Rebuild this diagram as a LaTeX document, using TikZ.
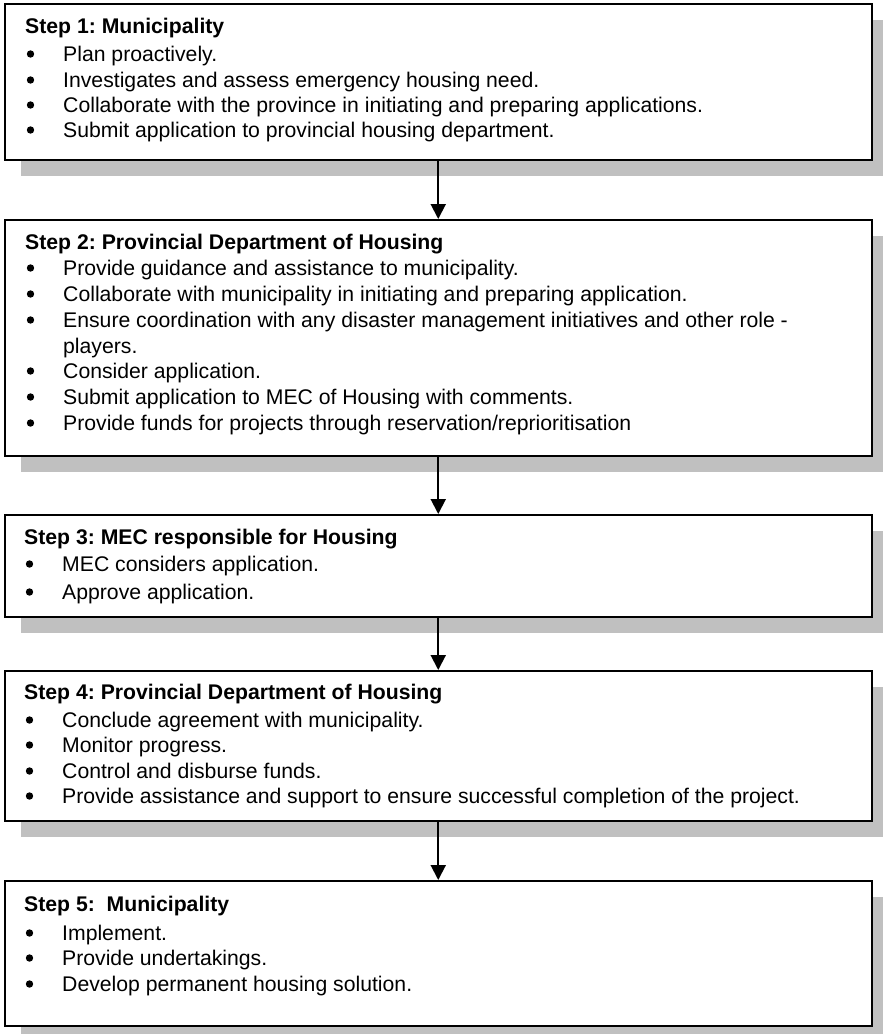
\documentclass[tikz,border=0pt]{standalone}
\usepackage{fontspec}
\setmainfont{Liberation Sans}
\usetikzlibrary{arrows.meta,shadows}
\definecolor{shadowgray}{RGB}{192,192,192}
\frenchspacing
\begin{document}
\begin{tikzpicture}[x=1pt,y=-1pt,
  stepbox/.style={draw=black, line width=1.5pt, fill=white, inner sep=0pt, anchor=north west,
    minimum width=867pt,
    drop shadow={shadow xshift=16pt, shadow yshift=-16pt, fill=shadowgray, opacity=1}},
  txt/.style={font=\fontsize{21.2}{24}\selectfont, inner sep=0pt, anchor=base west},
  ttl/.style={txt, font=\fontsize{21.2}{24}\selectfont\bfseries},
  bulletdot/.style={fill=black},
  arrowline/.style={line width=2pt, -{Triangle[width=15pt,length=15pt]}}]
\useasboundingbox (0,0) rectangle (883,1034);
\clip (0,0) rectangle (883,1034);
% boxes
\node[stepbox, minimum height=156pt] (b1) at (4,3) {};
\node[stepbox, minimum height=236pt] (b2) at (4,219) {};
\node[stepbox, minimum height=102pt] (b3) at (4,514) {};
\node[stepbox, minimum height=150pt] (b4) at (4,670) {};
\node[stepbox, minimum height=145pt] (b5) at (4,880) {};
% arrows
\draw[arrowline] (b1.south) -- (b2.north);
\draw[arrowline] (b2.south) -- (b3.north);
\draw[arrowline] (b3.south) -- (b4.north);
\draw[arrowline] (b4.south) -- (b5.north);
% box 1
\node[ttl] (t1) at (25,33) {Step 1: Municipality};
\node[txt] (i11) at (63,61) {Plan proactively.};
\node[txt] (i12) at (63,87) {Investigates and assess emergency housing need.};
\node[txt] (i13) at (63,112) {Collaborate with the province in initiating and preparing applications.};
\node[txt] (i14) at (63,137) {Submit application to provincial housing department.};
% box 2
\node[ttl] (t2) at (25,249) {Step 2: Provincial Department of Housing};
\node[txt] (i21) at (63,275) {Provide guidance and assistance to municipality.};
\node[txt] (i22) at (63,301) {Collaborate with municipality in initiating and preparing application.};
\node[txt] (i23) at (63,327) {Ensure coordination with any disaster management initiatives and other role -};
\node[txt] (i23b) at (63,353) {players.};
\node[txt] (i24) at (63,378) {Consider application.};
\node[txt] (i25) at (63,404) {Submit application to MEC of Housing with comments.};
\node[txt] (i26) at (63,430) {Provide funds for projects through reservation/reprioritisation};
% box 3
\node[ttl] (t3) at (24,544) {Step 3: MEC responsible for Housing};
\node[txt] (i31) at (62,571) {MEC considers application.};
\node[txt] (i32) at (62,599) {Approve application.};
% box 4
\node[ttl] (t4) at (24,699) {Step 4: Provincial Department of Housing};
\node[txt] (i41) at (62,727) {Conclude agreement with municipality.};
\node[txt] (i42) at (62,752) {Monitor progress.};
\node[txt] (i43) at (62,778) {Control and disburse funds.};
\node[txt] (i44) at (62,803) {Provide assistance and support to ensure successful completion of the project.};
% box 5
\node[ttl] (t5) at (24,911) {Step 5:\ \ Municipality};
\node[txt] (i51) at (62,940) {Implement.};
\node[txt] (i52) at (62,965) {Provide undertakings.};
\node[txt] (i53) at (62,991) {Develop permanent housing solution.};
% bullets
\foreach \n in {i11,i12,i13,i14,i21,i22,i23,i24,i25,i26,i31,i32,i41,i42,i43,i44,i51,i52,i53}
  \fill[bulletdot] ([shift={(-32.5,-7)}]\n.base west) circle (3.7pt);
\end{tikzpicture}
\end{document}
